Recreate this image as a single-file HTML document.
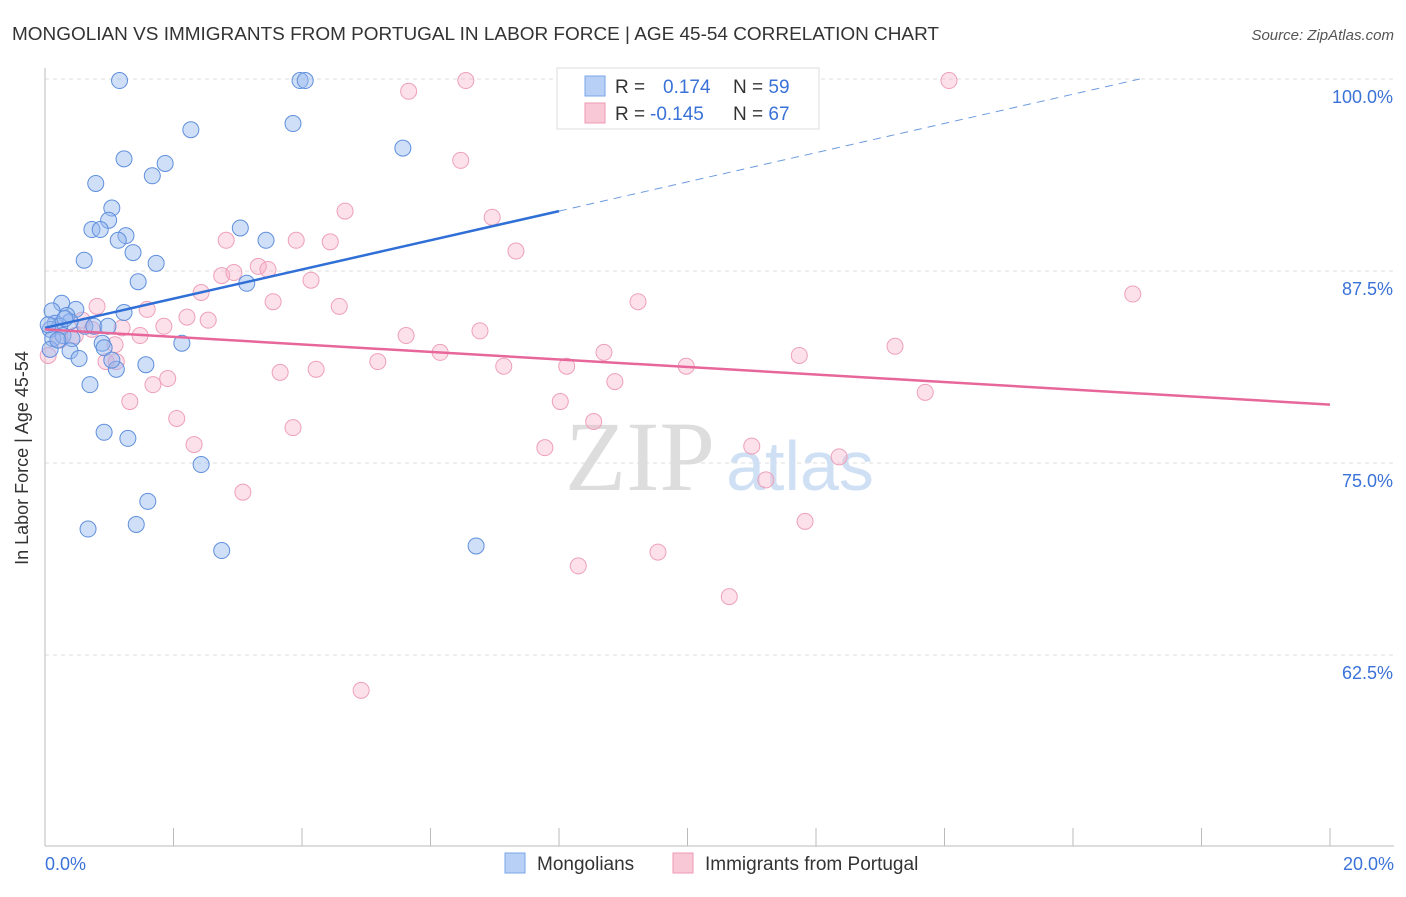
<!DOCTYPE html>
<html><head><meta charset="utf-8"><style>
body{margin:0;background:#fff;font-family:"Liberation Sans",sans-serif}
</style></head><body>
<svg width="1406" height="892" xmlns="http://www.w3.org/2000/svg">
<text x="12" y="40" font-size="18" fill="#333" textLength="927" lengthAdjust="spacingAndGlyphs">MONGOLIAN VS IMMIGRANTS FROM PORTUGAL IN LABOR FORCE | AGE 45-54 CORRELATION CHART</text>
<text x="1394" y="40" font-size="15" fill="#555" text-anchor="end" font-style="italic">Source: ZipAtlas.com</text>
<g id="grid"></g>
<text x="640" y="490" font-size="100" fill="#ddd" font-family="Liberation Serif" text-anchor="middle">ZIP</text>
<text x="800" y="490" font-size="70" fill="#cfe0f5" text-anchor="middle">atlas</text>
<g id="pts"></g>
<g id="lines"></g>
<text x="28" y="458" font-size="18" fill="#333" text-anchor="middle" transform="rotate(-90 28 458)">In Labor Force | Age 45-54</text>
<text x="45" y="870" font-size="18" fill="#3a72d8">0.0%</text>
<text x="1394" y="870" font-size="18" fill="#3a72d8" text-anchor="end">20.0%</text>
<g>
<rect x="557" y="68" width="262" height="61" fill="#fff" stroke="#ddd"/>
<rect x="585" y="76" width="20" height="20" fill="#b8d0f5" stroke="#7aa6e8"/>
<rect x="585" y="103" width="20" height="20" fill="#f9c8d6" stroke="#ef9ab5"/>
<text x="615" y="93" font-size="19" fill="#333">R = <tspan fill="#3a72d8" x="663">0.174</tspan><tspan x="733" fill="#333">N = </tspan><tspan fill="#3a72d8">59</tspan></text>
<text x="615" y="120" font-size="19" fill="#333">R = <tspan fill="#3a72d8" x="650">-0.145</tspan><tspan x="733" fill="#333">N = </tspan><tspan fill="#3a72d8">67</tspan></text>
</g>
<g>
<rect x="505" y="853" width="20" height="20" fill="#b8d0f5" stroke="#7aa6e8"/>
<text x="537" y="870" font-size="19" fill="#333">Mongolians</text>
<rect x="673" y="853" width="20" height="20" fill="#f9c8d6" stroke="#ef9ab5"/>
<text x="705" y="870" font-size="19" fill="#333">Immigrants from Portugal</text>
</g>
</svg>
<script>
const yTicks=[100,87.5,75,62.5];
const yTickLabels=["100.0%","87.5%","75.0%","62.5%"];
const xTicks=[0,2,4,6,8,10,12,14,16,18,20];
const blueX=[1.16,3.97,4.05,2.27,3.86,5.57,1.23,1.87,1.67,0.79,1.04,0.99,0.73,0.86,1.26,1.14,3.04,3.44,1.37,0.61,1.73,1.45,3.14,0.26,0.11,0.48,0.34,0.39,1.23,0.16,0.23,0.62,0.76,0.98,0.08,0.12,0.28,0.42,2.13,0.89,0.92,0.39,0.08,0.53,1.11,1.57,0.7,0.92,1.29,2.43,1.6,1.42,0.67,2.75,6.71,0.05,0.2,0.31,1.04];
const blueY=[99.9,99.9,99.9,96.7,97.1,95.5,94.8,94.5,93.7,93.2,91.6,90.8,90.2,90.2,89.8,89.5,90.3,89.5,88.7,88.2,88.0,86.8,86.7,85.4,84.9,85.0,84.6,84.2,84.8,84.1,83.9,83.9,83.9,83.9,83.7,83.1,83.3,83.1,82.8,82.8,82.5,82.3,82.4,81.8,81.1,81.4,80.1,77.0,76.6,74.9,72.5,71.0,70.7,69.3,69.6,84.0,83.0,84.4,81.7];
const pinkX=[6.55,14.07,5.66,6.47,4.67,6.96,2.82,3.91,4.44,7.33,3.32,3.47,2.75,2.94,4.14,2.43,16.93,9.23,3.55,0.81,4.58,1.59,2.21,2.54,1.85,1.2,6.77,5.62,1.48,0.47,1.09,6.15,8.7,13.23,11.74,5.18,7.14,8.12,9.98,0.95,1.11,4.22,3.66,1.91,8.87,1.68,13.7,1.32,8.02,2.05,8.54,3.86,2.32,11.0,7.78,12.36,11.22,3.08,11.83,9.54,8.3,10.65,4.92,0.05,0.23,0.58,0.73];
const pinkY=[99.9,99.9,99.2,94.7,91.4,91.0,89.5,89.5,89.4,88.8,87.8,87.6,87.2,87.4,86.9,86.1,86.0,85.5,85.5,85.2,85.2,85.0,84.5,84.3,83.9,83.8,83.6,83.3,83.3,83.3,82.7,82.2,82.2,82.6,82.0,81.6,81.3,81.3,81.3,81.6,81.6,81.1,80.9,80.5,80.3,80.1,79.6,79.0,79.0,77.9,77.7,77.3,76.2,76.1,76.0,75.4,73.9,73.1,71.2,69.2,68.3,66.3,60.2,82.0,83.0,84.3,83.7];
const blueTrend=[[0,83.8],[8,91.4]],blueTrendDash=[[8,91.4],[17.04,100]];
const pinkTrend=[[0,83.7],[20,78.8]];
const X=v=>45+v*64.25, Y=v=>79+(100-v)*15.36;
const NS="http://www.w3.org/2000/svg";
function mk(t,a,p){const e=document.createElementNS(NS,t);for(const k in a)e.setAttribute(k,a[k]);p.appendChild(e);return e;}
const g=document.getElementById('grid');
yTicks.forEach((v,i)=>{const l=mk('line',{x1:45,x2:1394,y1:Y(v),y2:Y(v),stroke:'#ddd','stroke-dasharray':'4,4'},g);


const t=mk('text',{x:1393,y:Y(v)+24,'font-size':18,fill:'#3a72d8','text-anchor':'end'},g);t.textContent=yTickLabels[i];

});
let a=mk('line',{x1:45,x2:45,y1:68,y2:846,stroke:'#bbb'},g);


a=mk('line',{x1:45,x2:1394,y1:846,y2:846,stroke:'#bbb'},g);


xTicks.forEach(v=>{const l=mk('line',{x1:X(v),x2:X(v),y1:828,y2:846,stroke:'#bbb'},g);

});
const p=document.getElementById('pts');
pinkX.forEach((x,i)=>{const c=mk('circle',{cx:X(x),cy:Y(pinkY[i]),r:8,fill:'rgba(246,170,195,0.35)',stroke:'#eea0b9','stroke-width':1},p);

});
blueX.forEach((x,i)=>{const c=mk('circle',{cx:X(x),cy:Y(blueY[i]),r:8,fill:'rgba(150,185,240,0.45)',stroke:'#5f8fdc','stroke-width':1},p);

});
const L=document.getElementById('lines');
let t=mk('line',{x1:X(blueTrend[0][0]),y1:Y(blueTrend[0][1]),x2:X(blueTrend[1][0]),y2:Y(blueTrend[1][1]),stroke:'#2f6fd6','stroke-width':2.5},L);


t=mk('line',{x1:X(blueTrendDash[0][0]),y1:Y(blueTrendDash[0][1]),x2:X(blueTrendDash[1][0]),y2:Y(blueTrendDash[1][1]),stroke:'#6e9be0','stroke-width':1,'stroke-dasharray':'8,6'},L);


t=mk('line',{x1:X(pinkTrend[0][0]),y1:Y(pinkTrend[0][1]),x2:X(pinkTrend[1][0]),y2:Y(pinkTrend[1][1]),stroke:'#e8679a','stroke-width':2.5},L);


</script>
</body></html>
